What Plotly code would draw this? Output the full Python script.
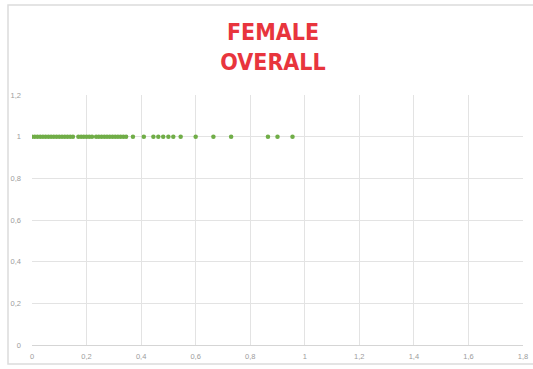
import plotly.graph_objects as go

# Data: female overall values (x) all at y = 1
x_values = [
    0.00, 0.01, 0.02, 0.03, 0.04, 0.05, 0.06, 0.07, 0.08, 0.09, 0.10,
    0.11, 0.12, 0.13, 0.14, 0.15,
    0.17, 0.18, 0.19, 0.20, 0.21, 0.22,
    0.235, 0.245, 0.255, 0.265, 0.275, 0.285, 0.295, 0.305, 0.315, 0.325, 0.335, 0.345,
    0.37, 0.41,
    0.445, 0.463, 0.481, 0.50, 0.518,
    0.545, 0.60, 0.665, 0.73,
    0.865, 0.90, 0.955,
]
y_values = [1] * len(x_values)

title_text = "FEMALE<br>OVERALL"
x_ticks = [0, 0.2, 0.4, 0.6, 0.8, 1, 1.2, 1.4, 1.6, 1.8]
y_ticks = [0, 0.2, 0.4, 0.6, 0.8, 1, 1.2]

W, H = 533, 369
L, R, T, B = 32, 10, 95, 24
pw, ph = W - L - R, H - T - B

fig = go.Figure()
fig.add_trace(go.Scatter(
    x=x_values, y=y_values, mode="markers",
    marker=dict(color="#70AD47", size=4.5, line=dict(width=0)),
    showlegend=False, hoverinfo="x",
))

grid = "#e3e3e3"
tickfont = dict(family="Liberation Sans, Arial, sans-serif", size=7.5, color="#9c9c9c")

fig.update_layout(
    width=W, height=H,
    margin=dict(l=L, r=R, t=T, b=B, autoexpand=False),
    paper_bgcolor="white", plot_bgcolor="white",
    separators=", ",
    title=dict(
        text=title_text,
        x=(273 - L) / pw, xref="paper", xanchor="center",
        y=1 - 40 / H, yref="container", yanchor="middle",
        font=dict(family="DejaVu Sans Condensed, sans-serif",
                  size=23, color="#E8353D", weight="bold"),
        automargin=False,
    ),
    xaxis=dict(
        range=[0, 1.8], tickvals=x_ticks, showgrid=True, gridcolor=grid, gridwidth=1,
        zeroline=False, showline=True, linecolor="#d5d5d5", linewidth=1,
        ticks="", tickfont=tickfont, ticklabelstandoff=4, fixedrange=True,
        automargin=False,
    ),
    yaxis=dict(
        range=[0, 1.2], tickvals=y_ticks, showgrid=True, gridcolor=grid, gridwidth=1,
        zeroline=False, showline=False, ticks="", tickfont=tickfont,
        ticklabelstandoff=10, fixedrange=True, automargin=False,
    ),
    shapes=[dict(
        type="rect", xref="paper", yref="paper",
        x0=(8 - L) / pw, x1=(540 - L) / pw,
        y0=(H - B - 364) / ph, y1=(H - B - 5) / ph,
        line=dict(color="#dcdcdc", width=1.5), fillcolor="rgba(0,0,0,0)", layer="below",
    )],
)

fig.write_html("out.html", config={"displayModeBar": False},
               post_script="document.body.style.margin='0';")
